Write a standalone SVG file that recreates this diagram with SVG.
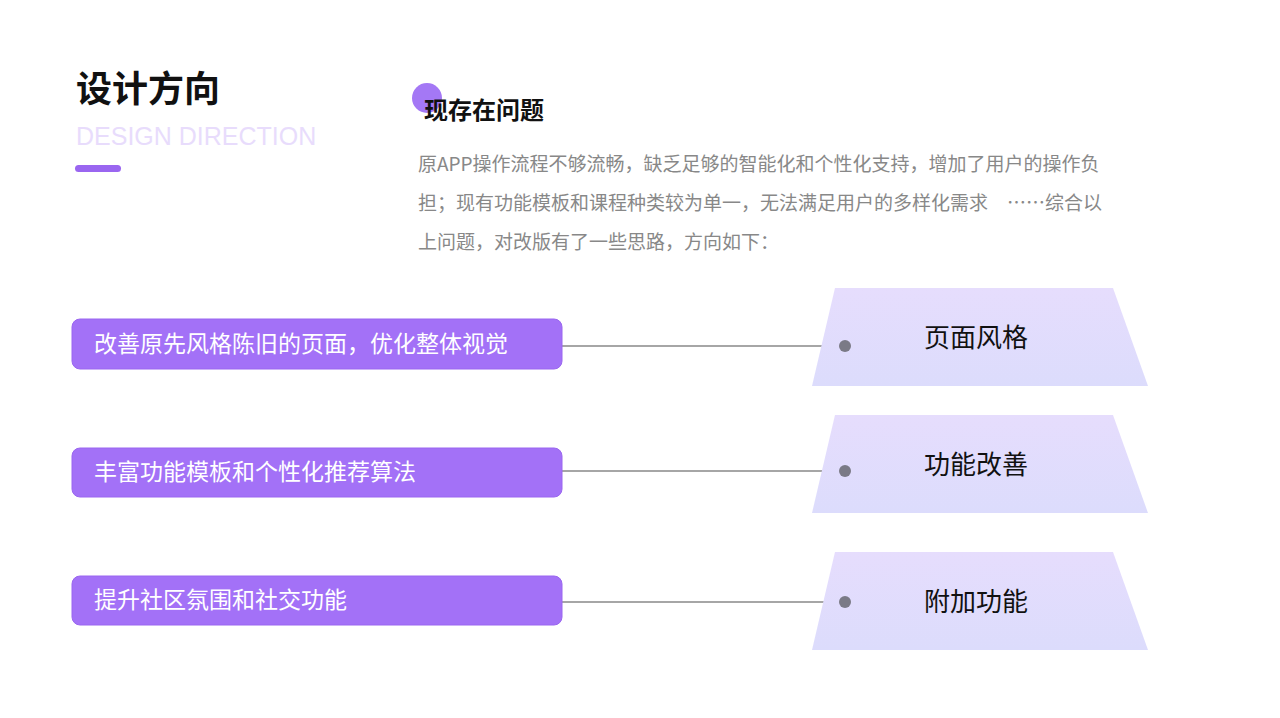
<svg xmlns="http://www.w3.org/2000/svg" width="1280" height="718" viewBox="0 0 1280 718">
<style>
text{font-family:"Noto Sans CJK SC","Noto Sans",sans-serif}
.box{fill:#a371f7;stroke:#9a66f0;stroke-width:1}
.bt{fill:#fff;font-size:23px}
.trap{fill:url(#g)}
.tt{fill:#111;font-size:26px;text-anchor:middle}
.ln{stroke:#888;stroke-width:1.5}
.dot{fill:#7a7a86}
.body{fill:#888;font-size:19px}
</style>
<defs><linearGradient id="g" x1="0" y1="0" x2="0" y2="1"><stop offset="0" stop-color="#e6ddfd"/><stop offset="1" stop-color="#dcdcfc"/></linearGradient></defs>
<rect width="1280" height="718" fill="#fff"/>
<g id="header">
<text x="76" y="102" font-size="36" font-weight="bold" fill="#111">设计方向</text>
<text x="76" y="145" font-size="25" fill="#e8dcfc" style="font-family:'Liberation Sans',sans-serif">DESIGN DIRECTION</text>
<rect x="75" y="165" width="46" height="7" rx="3.5" fill="#9a66f0"/>
<circle cx="427" cy="98" r="15" fill="#a478f5"/>
<text x="424" y="119" font-size="24" font-weight="bold" fill="#111">现存在问题</text>
<text class="body" x="418" y="171">原APP操作流程不够流畅，缺乏足够的智能化和个性化支持，增加了用户的操作负</text>
<text class="body" x="418" y="210">担；现有功能模板和课程种类较为单一，无法满足用户的多样化需求　……综合以</text>
<text class="body" x="418" y="249">上问题，对改版有了一些思路，方向如下：</text>
</g>
<g id="connectors">
<line class="ln" x1="556" y1="346" x2="845" y2="346"/>
<line class="ln" x1="556" y1="471" x2="845" y2="471"/>
<line class="ln" x1="556" y1="602" x2="845" y2="602"/>
</g>
<g id="n1"><rect class="box" x="72" y="319" width="490" height="50" rx="8"/><text class="bt" x="94" y="352">改善原先风格陈旧的页面，优化整体视觉</text></g>
<g id="n2"><rect class="box" x="72" y="448" width="490" height="49" rx="8"/><text class="bt" x="94" y="480">丰富功能模板和个性化推荐算法</text></g>
<g id="n3"><rect class="box" x="72" y="576" width="490" height="49" rx="8"/><text class="bt" x="94" y="608">提升社区氛围和社交功能</text></g>
<g id="t1"><polygon class="trap" points="835,288 1113,288 1148,386 812,386"/><circle class="dot" cx="845" cy="346" r="6"/><text class="tt" x="976" y="347">页面风格</text></g>
<g id="t2"><polygon class="trap" points="835,415 1113,415 1148,513 812,513"/><circle class="dot" cx="845" cy="471" r="6"/><text class="tt" x="976" y="474">功能改善</text></g>
<g id="t3"><polygon class="trap" points="835,552 1113,552 1148,650 812,650"/><circle class="dot" cx="845" cy="602" r="6"/><text class="tt" x="976" y="611">附加功能</text></g>
</svg>
